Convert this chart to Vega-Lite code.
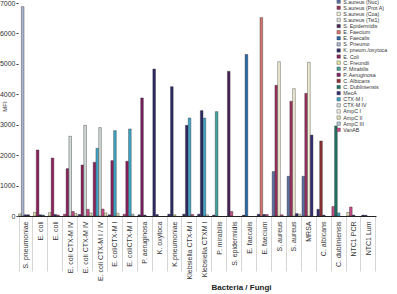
{
  "$schema": "https://vega.github.io/schema/vega-lite/v6.json",
  "width": 358,
  "height": 213,
  "autosize": "none",
  "padding": {"left": 18, "top": 3, "right": 21, "bottom": 78},
  "background": "white",
  "config": {
    "font": "Liberation Sans",
    "view": {"stroke": null},
    "bar": {"stroke": "#2a2a2a", "strokeWidth": 0.4}
  },
  "data": {
    "values": [
      {"cat": "01 S. pneumoniae", "series": "AmpC II", "v": 70},
      {"cat": "01 S. pneumoniae", "series": "S. Pneumo", "v": 6880},
      {"cat": "01 S. pneumoniae", "series": "MecA", "v": 40},
      {"cat": "01 S. pneumoniae", "series": "K. pneum./oxytoca", "v": 40},
      {"cat": "02 E. coli", "series": "AmpC II", "v": 120},
      {"cat": "02 E. coli", "series": "E. Coli", "v": 2170},
      {"cat": "02 E. coli", "series": "MecA", "v": 40},
      {"cat": "02 E. coli", "series": "C. Dubliniensis", "v": 30},
      {"cat": "03 E. coli", "series": "AmpC II", "v": 110},
      {"cat": "03 E. coli", "series": "E. Coli", "v": 1905},
      {"cat": "03 E. coli", "series": "MecA", "v": 50},
      {"cat": "03 E. coli", "series": "VanAB", "v": 30},
      {"cat": "04 E. coli CTX-M  IV", "series": "VanAB", "v": 60},
      {"cat": "04 E. coli CTX-M  IV", "series": "E. Coli", "v": 1557},
      {"cat": "04 E. coli CTX-M  IV", "series": "CTX-M IV", "v": 2620},
      {"cat": "04 E. coli CTX-M  IV", "series": "VanAB", "v": 150},
      {"cat": "04 E. coli CTX-M  IV", "series": "AmpC II", "v": 80},
      {"cat": "05 E. coli CTX-M  IV", "series": "MecA", "v": 50},
      {"cat": "05 E. coli CTX-M  IV", "series": "E. Coli", "v": 1676},
      {"cat": "05 E. coli CTX-M  IV", "series": "CTX-M IV", "v": 2980},
      {"cat": "05 E. coli CTX-M  IV", "series": "VanAB", "v": 220},
      {"cat": "05 E. coli CTX-M  IV", "series": "AmpC II", "v": 100},
      {"cat": "06 E. coli CTX-M I / IV", "series": "E. Coli", "v": 1765},
      {"cat": "06 E. coli CTX-M I / IV", "series": "CTX-M I", "v": 2225},
      {"cat": "06 E. coli CTX-M I / IV", "series": "CTX-M IV", "v": 2905},
      {"cat": "06 E. coli CTX-M I / IV", "series": "VanAB", "v": 230},
      {"cat": "06 E. coli CTX-M I / IV", "series": "AmpC II", "v": 100},
      {"cat": "07 E. coliCTX-M I", "series": "MecA", "v": 40},
      {"cat": "07 E. coliCTX-M I", "series": "E. Coli", "v": 1820},
      {"cat": "07 E. coliCTX-M I", "series": "CTX-M I", "v": 2806},
      {"cat": "07 E. coliCTX-M I", "series": "AmpC II", "v": 90},
      {"cat": "08 E. coliCTX-M I", "series": "VanAB", "v": 60},
      {"cat": "08 E. coliCTX-M I", "series": "E. Coli", "v": 1800},
      {"cat": "08 E. coliCTX-M I", "series": "CTX-M I", "v": 2860},
      {"cat": "08 E. coliCTX-M I", "series": "AmpC III", "v": 60},
      {"cat": "09 P. aeruginosa", "series": "MecA", "v": 40},
      {"cat": "09 P. aeruginosa", "series": "P. Aeruginosa", "v": 3880},
      {"cat": "09 P. aeruginosa", "series": "K. pneum./oxytoca", "v": 30},
      {"cat": "10 K. oxytoca", "series": "K. pneum./oxytoca", "v": 4830},
      {"cat": "10 K. oxytoca", "series": "MecA", "v": 50},
      {"cat": "11 K.pneumoniae", "series": "MecA", "v": 60},
      {"cat": "11 K.pneumoniae", "series": "K. pneum./oxytoca", "v": 4250},
      {"cat": "11 K.pneumoniae", "series": "C. Freundii", "v": 40},
      {"cat": "12 Klebsiella CTX-M I", "series": "MecA", "v": 60},
      {"cat": "12 Klebsiella CTX-M I", "series": "K. pneum./oxytoca", "v": 2980},
      {"cat": "12 Klebsiella CTX-M I", "series": "CTX-M I", "v": 3220},
      {"cat": "12 Klebsiella CTX-M I", "series": "VanAB", "v": 50},
      {"cat": "13 Klebsiella CTXM I", "series": "MecA", "v": 60},
      {"cat": "13 Klebsiella CTXM I", "series": "K. pneum./oxytoca", "v": 3463},
      {"cat": "13 Klebsiella CTXM I", "series": "CTX-M I", "v": 3220},
      {"cat": "13 Klebsiella CTXM I", "series": "AmpC I", "v": 40},
      {"cat": "14 P. mirabilis", "series": "MecA", "v": 30},
      {"cat": "14 P. mirabilis", "series": "P. Mirabilis", "v": 3430},
      {"cat": "15 S. epidermidis", "series": "S. Epidermidis", "v": 4755},
      {"cat": "15 S. epidermidis", "series": "VanAB", "v": 150},
      {"cat": "16 E. faecalis", "series": "MecA", "v": 30},
      {"cat": "16 E. faecalis", "series": "E. Faecalis", "v": 5310},
      {"cat": "17 E. faecium", "series": "MecA", "v": 60},
      {"cat": "17 E. faecium", "series": "E. Faecium", "v": 6520},
      {"cat": "17 E. faecium", "series": "K. pneum./oxytoca", "v": 50},
      {"cat": "17 E. faecium", "series": "VanAB", "v": 50},
      {"cat": "18 S. aureus", "series": "S.aureus (Nuc)", "v": 1460},
      {"cat": "18 S. aureus", "series": "S.aureus (Prot A)", "v": 4295},
      {"cat": "18 S. aureus", "series": "S.aureus (Coa)", "v": 5070},
      {"cat": "18 S. aureus", "series": "VanAB", "v": 40},
      {"cat": "19 S. aureus", "series": "S.aureus (Nuc)", "v": 1305},
      {"cat": "19 S. aureus", "series": "S.aureus (Prot A)", "v": 3770},
      {"cat": "19 S. aureus", "series": "S.aureus (Coa)", "v": 4185},
      {"cat": "19 S. aureus", "series": "MecA", "v": 80},
      {"cat": "19 S. aureus", "series": "AmpC II", "v": 60},
      {"cat": "20 MRSA", "series": "S.aureus (Nuc)", "v": 1305},
      {"cat": "20 MRSA", "series": "S.aureus (Prot A)", "v": 4030},
      {"cat": "20 MRSA", "series": "S.aureus (Coa)", "v": 5050},
      {"cat": "20 MRSA", "series": "MecA", "v": 2660},
      {"cat": "21 C. albicans", "series": "MecA", "v": 220},
      {"cat": "21 C. albicans", "series": "C. Albicans", "v": 2465},
      {"cat": "21 C. albicans", "series": "K. pneum./oxytoca", "v": 30},
      {"cat": "22 C. dubliniensis", "series": "VanAB", "v": 310},
      {"cat": "22 C. dubliniensis", "series": "C. Dubliniensis", "v": 2960},
      {"cat": "22 C. dubliniensis", "series": "CTX-M I", "v": 100},
      {"cat": "23 NTC1 PCR", "series": "AmpC II", "v": 120},
      {"cat": "23 NTC1 PCR", "series": "VanAB", "v": 296},
      {"cat": "23 NTC1 PCR", "series": "MecA", "v": 30},
      {"cat": "24 NTC1 Lum", "series": "MecA", "v": 30},
      {"cat": "24 NTC1 Lum", "series": "K. pneum./oxytoca", "v": 25}
    ]
  },
  "transform": [
    {"window": [{"op": "row_number", "as": "slot"}], "groupby": ["cat"]}
  ],
  "mark": {"type": "bar"},
  "encoding": {
    "x": {
      "field": "cat",
      "type": "nominal",
      "sort": null,
      "scale": {"paddingInner": 0.08, "paddingOuter": 0.04},
      "axis": {
        "title": "Bacteria / Fungi",
        "titleFontSize": 8,
        "titleFontWeight": "bold",
        "titleColor": "#222",
        "titleX": 223,
        "titleY": 71,
        "titleAlign": "center",
        "titleBaseline": "middle",
        "labelExpr": "isString(datum.value) ? slice(datum.value, 3) : ''",
        "labelAngle": -90,
        "labelAlign": "right",
        "labelBaseline": "middle",
        "labelFontSize": 7,
        "labelColor": "#333",
        "labelPadding": -50,
        "labelOverlap": false,
        "labelLimit": 200,
        "tickBand": "extent",
        "tickSize": 55,
        "tickColor": "#bbb",
        "tickWidth": 0.6,
        "domainColor": "#222",
        "domainWidth": 1
      }
    },
    "xOffset": {
      "field": "slot",
      "type": "ordinal",
      "scale": {"domain": [1, 2, 3, 4, 5], "paddingInner": 0.05}
    },
    "y": {
      "field": "v",
      "type": "quantitative",
      "scale": {"domain": [0, 7000]},
      "axis": {
        "title": "MFI",
        "titleFontSize": 6,
        "titleFontWeight": "normal",
        "titleColor": "#333",
        "titleAngle": -90,
        "titleX": -14,
        "titleY": 103,
        "titleAlign": "center",
        "titleBaseline": "middle",
        "format": "d",
        "values": [0, 1000, 2000, 3000, 4000, 5000, 6000, 7000],
        "labelFontSize": 7,
        "labelColor": "#333",
        "labelPadding": 1,
        "grid": false,
        "domain": false,
        "tickSize": 2,
        "tickColor": "#333"
      }
    },
    "color": {
      "field": "series",
      "type": "nominal",
      "scale": {
        "domain": ["S.aureus (Nuc)", "S.aureus (Prot A)", "S.aureus (Coa)", "S.aureus (Tst1)", "S. Epidermidis", "E. Faecium", "E. Faecalis", "S. Pneumo", "K. pneum./oxytoca", "E. Coli", "C. Freundii", "P. Mirabilis", "P. Aeruginosa", "C. Albicans", "C. Dubliniensis", "MecA", "CTX-M I", "CTX-M IV", "AmpC I", "AmpC II", "AmpC III", "VanAB"],
        "range": ["#5b6ea6", "#9c2f5e", "#f4f1d6", "#dcdcd4", "#4a2458", "#d4736c", "#2566a8", "#aab5d2", "#2c2a66", "#8c1f5c", "#e6e69c", "#3fa29c", "#7d1f62", "#8e2f33", "#1f7265", "#332a74", "#3fa7c9", "#d2dcd8", "#f2f0dc", "#e1e0b2", "#b2c8d8", "#c84a86"]
      },
      "legend": {
        "title": null,
        "orient": "none",
        "legendX": 318,
        "legendY": -4,
        "padding": 0,
        "symbolType": "square",
        "symbolSize": 12,
        "symbolStrokeColor": "#444",
        "symbolStrokeWidth": 0.4,
        "labelFontSize": 5.3,
        "labelColor": "#333",
        "labelOffset": 2,
        "rowPadding": 0.1,
        "labelLimit": 80
      }
    }
  }
}
